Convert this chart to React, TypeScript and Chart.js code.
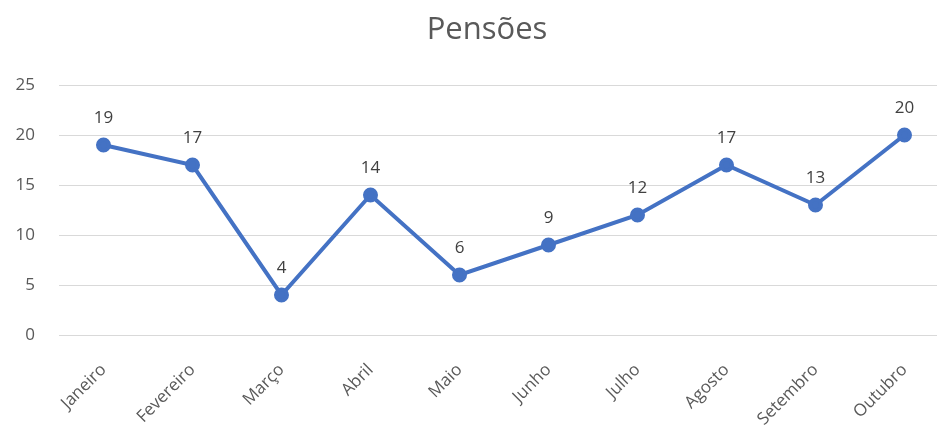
import React, { useEffect, useRef } from "react";
import { Chart, registerables } from "chart.js";

Chart.register(...registerables);

const chartTitle = "Pensões";
const categories = ["Janeiro", "Fevereiro", "Março", "Abril", "Maio", "Junho", "Julho", "Agosto", "Setembro", "Outubro"];
const values = [19, 17, 4, 14, 6, 9, 12, 17, 13, 20];
const yTicks = [0, 5, 10, 15, 20, 25];

const FONT = "'Open Sans', 'Noto Sans', sans-serif";
const TEXT = "#595959";

const dataLabels = {
  id: "dataLabels",
  afterDatasetsDraw(chart: any) {
    const ctx = chart.ctx;
    const meta = chart.getDatasetMeta(0);
    ctx.save();
    ctx.font = `17px ${FONT}`;
    ctx.fillStyle = "#404040";
    ctx.textAlign = "center";
    ctx.textBaseline = "middle";
    meta.data.forEach((pt: any, i: number) => {
      ctx.fillText(String(values[i]), pt.x, pt.y - 27);
    });
    ctx.restore();
  },
};

const titlePlugin = {
  id: "customTitle",
  afterDraw(chart: any) {
    const ctx = chart.ctx;
    ctx.save();
    ctx.font = `31px ${FONT}`;
    ctx.fillStyle = TEXT;
    ctx.textAlign = "center";
    ctx.textBaseline = "middle";
    ctx.fillText(chartTitle, 487, 30);
    ctx.restore();
  },
};

export default function App() {
  const ref = useRef<HTMLCanvasElement>(null);
  useEffect(() => {
    document.body.style.margin = "0";
    document.body.style.overflow = "hidden";
    const chart = new Chart(ref.current!, {
      type: "line",
      data: {
        labels: categories,
        datasets: [
          {
            data: values,
            borderColor: "#4472C4",
            backgroundColor: "#4472C4",
            borderWidth: 4,
            pointRadius: 5.5,
            pointHoverRadius: 5.5,
            pointBackgroundColor: "#4472C4",
            pointBorderColor: "#4472C4",
            tension: 0,
          },
        ],
      },
      options: {
        responsive: false,
        animation: false,
        layout: { padding: { top: 85, right: 11, left: 0, bottom: 0 } },
        plugins: {
          legend: { display: false },
          title: { display: false },
          tooltip: { enabled: false },
        },
        scales: {
          x: {
            offset: true,
            grid: { display: false, drawTicks: false },
            border: { display: false },
            ticks: {
              minRotation: 45,
              maxRotation: 45,
              padding: 25,
              color: TEXT,
              font: { size: 17, family: FONT },
            },
            afterFit(scale: any) {
              scale.height = 95;
            },
          },
          y: {
            min: 0,
            max: 25,
            grid: { color: "#d9d9d9", lineWidth: 1, drawTicks: false },
            border: { display: false },
            afterBuildTicks(scale: any) {
              scale.ticks = yTicks.map((v) => ({ value: v }));
            },
            ticks: {
              padding: 24,
              color: TEXT,
              font: { size: 17, family: FONT },
            },
            afterFit(scale: any) {
              scale.width = 59;
            },
          },
        },
      },
      plugins: [dataLabels, titlePlugin],
    });
    return () => chart.destroy();
  }, []);
  return <canvas ref={ref} width={960} height={430} style={{ display: "block", width: 960, height: 430 }} />;
}
